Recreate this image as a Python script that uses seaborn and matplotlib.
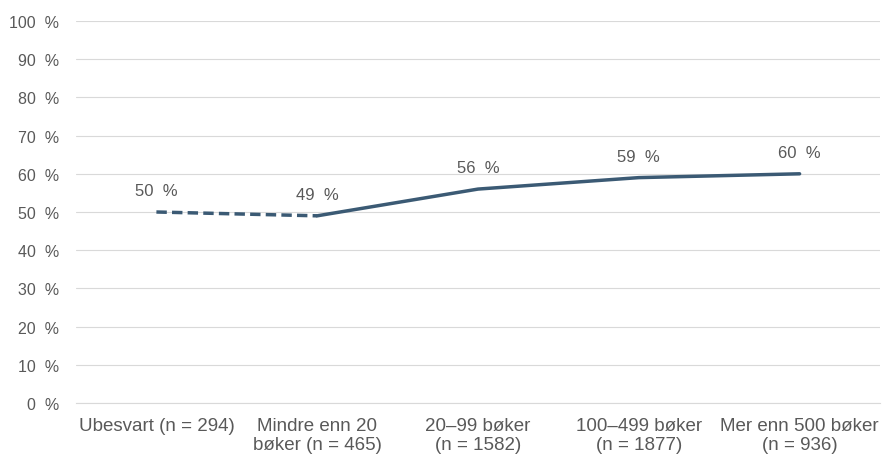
import matplotlib
matplotlib.use("Agg")
import matplotlib.pyplot as plt
import seaborn as sns
import pandas as pd

# Data
categories = ["Ubesvart (n = 294)", "Mindre enn 20\nbøker (n = 465)", "20–99 bøker\n(n = 1582)",
              "100–499 bøker\n(n = 1877)", "Mer enn 500 bøker\n(n = 936)"]
values = [50, 49, 56, 59, 60]
y_ticks = [0, 10, 20, 30, 40, 50, 60, 70, 80, 90, 100]

sns.set_theme(style="white")
plt.rcParams['font.family'] = ['Liberation Sans', 'DejaVu Sans']

df = pd.DataFrame({"pos": range(len(categories)), "value": values})

fig = plt.figure(figsize=(8.82, 4.56), dpi=100)
ax = fig.add_axes([76/882, 52/456, 804/882, 382/456])

line_color = "#3B5A74"
# dashed segment for "Ubesvart", solid for the rest
sns.lineplot(data=df.iloc[:2], x="pos", y="value", ax=ax, color=line_color,
             linewidth=2.5, linestyle=(0, (3, 1.5)))
sns.lineplot(data=df.iloc[1:], x="pos", y="value", ax=ax, color=line_color,
             linewidth=2.5)

for i, v in enumerate(values):
    ax.annotate(f"{v}  %", (i, v), xytext=(0, 10), textcoords="offset points",
                ha="center", va="bottom", fontsize=12, color="#595959")

ax.set_xlim(-0.5, len(categories) - 0.5)
ax.set_ylim(0, 100)
ax.set_yticks(y_ticks)
ax.set_yticklabels([f"{t}  %" for t in y_ticks])
ax.set_xticks(range(len(categories)))
ax.set_xticklabels(categories, fontsize=13.5, linespacing=1.15)
ax.tick_params(axis="both", length=0, labelcolor="#595959")
ax.tick_params(axis="y", pad=12, labelsize=11.5)
ax.tick_params(axis="x", pad=10)
ax.grid(axis="y", color="#D9D9D9", linewidth=0.8)
ax.set_axisbelow(True)
ax.set_xlabel("")
ax.set_ylabel("")
for s in ["top", "right", "left"]:
    ax.spines[s].set_visible(False)
ax.spines["bottom"].set_color("#D9D9D9")
ax.spines["bottom"].set_linewidth(0.8)

fig.savefig("out.png", dpi=100)
